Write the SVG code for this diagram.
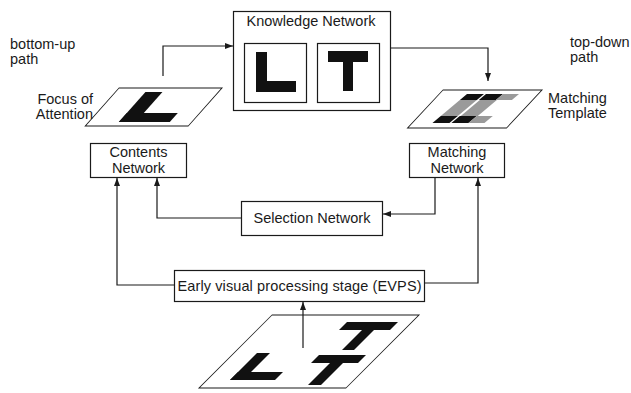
<svg xmlns="http://www.w3.org/2000/svg" width="631" height="393" viewBox="0 0 631 393">
  <defs>
    <marker id="arrow" viewBox="0 0 8 6" refX="8" refY="3" markerWidth="8" markerHeight="6" markerUnits="userSpaceOnUse" orient="auto">
      <path d="M0,0 L8,3 L0,6 Z" fill="#1a1a1a"/>
    </marker>
  </defs>
  <style>
    .box { fill: #ffffff; stroke: #1a1a1a; stroke-width: 1.2; }
    .plane { fill: #ffffff; stroke: #1a1a1a; stroke-width: 1.1; }
    .ink { fill: #111111; }
    .grey { fill: #9a9a9a; }
    .lbl { font-family: "Liberation Sans", Arial, sans-serif; font-size: 14.5px; fill: #1a1a1a; }
    .mid { text-anchor: middle; }
    .end { text-anchor: end; }
    .wire { fill: none; stroke: #1a1a1a; stroke-width: 1.2; }
  </style>

  <rect width="631" height="393" fill="#ffffff"/>

  <!-- side labels -->
  <text class="lbl" x="10" y="49">bottom-up</text>
  <text class="lbl" x="10" y="64">path</text>
  <text class="lbl" x="570" y="47">top-down</text>
  <text class="lbl" x="570" y="62">path</text>

  <!-- knowledge network with stored L and T patterns -->
  <g id="knowledge-network">
    <rect class="box" x="233.5" y="11.5" width="157" height="99"/>
    <text class="lbl mid" x="311" y="26">Knowledge Network</text>
    <rect class="box" x="244.5" y="43.5" width="62" height="59"/>
    <rect class="ink" x="256" y="52" width="11" height="40"/>
    <rect class="ink" x="256" y="81" width="40" height="11"/>
    <rect class="box" x="317.5" y="43.5" width="62" height="59"/>
    <rect class="ink" x="328" y="51" width="40" height="11"/>
    <rect class="ink" x="343" y="51" width="10" height="40"/>
  </g>

  <!-- focus of attention plane holding the selected L -->
  <g id="focus-of-attention">
    <g transform="translate(119,88) skewX(-41.6)">
      <rect class="plane" x="0" y="0" width="103" height="38"/>
      <rect class="ink" x="30" y="4" width="17" height="30"/>
      <rect class="ink" x="30" y="25" width="51" height="9"/>
    </g>
    <text class="lbl end" x="93" y="104">Focus of</text>
    <text class="lbl end" x="93" y="119">Attention</text>
  </g>

  <!-- matching template plane -->
  <g id="matching-template">
    <g transform="translate(443,90) skewX(-43)">
      <rect class="plane" x="0" y="0" width="99" height="38"/>
    </g>
    <g transform="translate(467,94) skewX(-50)">
      <rect class="grey" x="0" y="6" width="17" height="16"/>
      <rect class="grey" x="20" y="6" width="17" height="16"/>
      <rect class="ink" x="0" y="0" width="17" height="6"/>
      <rect class="ink" x="19" y="0" width="17" height="6"/>
      <rect class="grey" x="36" y="0" width="16" height="6"/>
      <rect class="ink" x="0" y="22" width="17" height="7"/>
      <rect class="ink" x="19" y="22" width="17" height="7"/>
      <rect class="grey" x="36" y="22" width="16" height="7"/>
    </g>
    <text class="lbl" x="548" y="103">Matching</text>
    <text class="lbl" x="548" y="118">Template</text>
  </g>

  <g id="contents-network">
    <rect class="box" x="90.5" y="143.5" width="96" height="34"/>
    <text class="lbl mid" x="138.5" y="157">Contents</text>
    <text class="lbl mid" x="138.5" y="173">Network</text>
  </g>

  <g id="matching-network">
    <rect class="box" x="409.5" y="143.5" width="95" height="34"/>
    <text class="lbl mid" x="457" y="157">Matching</text>
    <text class="lbl mid" x="457" y="173">Network</text>
  </g>

  <g id="selection-network">
    <rect class="box" x="241.5" y="201.5" width="141" height="34"/>
    <text class="lbl mid" x="312" y="223">Selection Network</text>
  </g>

  <g id="evps">
    <rect class="box" x="174.5" y="270.5" width="250" height="31"/>
    <text class="lbl mid" x="299.5" y="291" textLength="244">Early visual processing stage (EVPS)</text>
  </g>

  <!-- input scene: L and two Ts on a plane -->
  <g id="input-scene">
    <g transform="translate(272,315) skewX(-45)">
      <rect class="plane" x="0" y="0" width="147" height="73"/>
      <rect class="ink" x="23" y="38" width="13" height="27"/>
      <rect class="ink" x="23" y="57" width="45" height="8"/>
      <rect class="ink" x="82" y="7" width="51" height="8"/>
      <rect class="ink" x="105" y="7" width="12" height="28"/>
      <rect class="ink" x="87" y="40" width="47" height="8"/>
      <rect class="ink" x="106" y="40" width="13" height="30"/>
    </g>
  </g>

  <g id="connectors">
    <path class="wire" d="M163,76 V46 H233" marker-end="url(#arrow)"/>
    <path class="wire" d="M391,48 H488 V81" marker-end="url(#arrow)"/>
    <path class="wire" d="M241,218 H157 V178" marker-end="url(#arrow)"/>
    <path class="wire" d="M435,178 V214 H383" marker-end="url(#arrow)"/>
    <path class="wire" d="M174,285 H117 V178" marker-end="url(#arrow)"/>
    <path class="wire" d="M425,283 H478 V178" marker-end="url(#arrow)"/>
    <path class="wire" d="M303,348 V302" marker-end="url(#arrow)"/>
  </g>
</svg>
